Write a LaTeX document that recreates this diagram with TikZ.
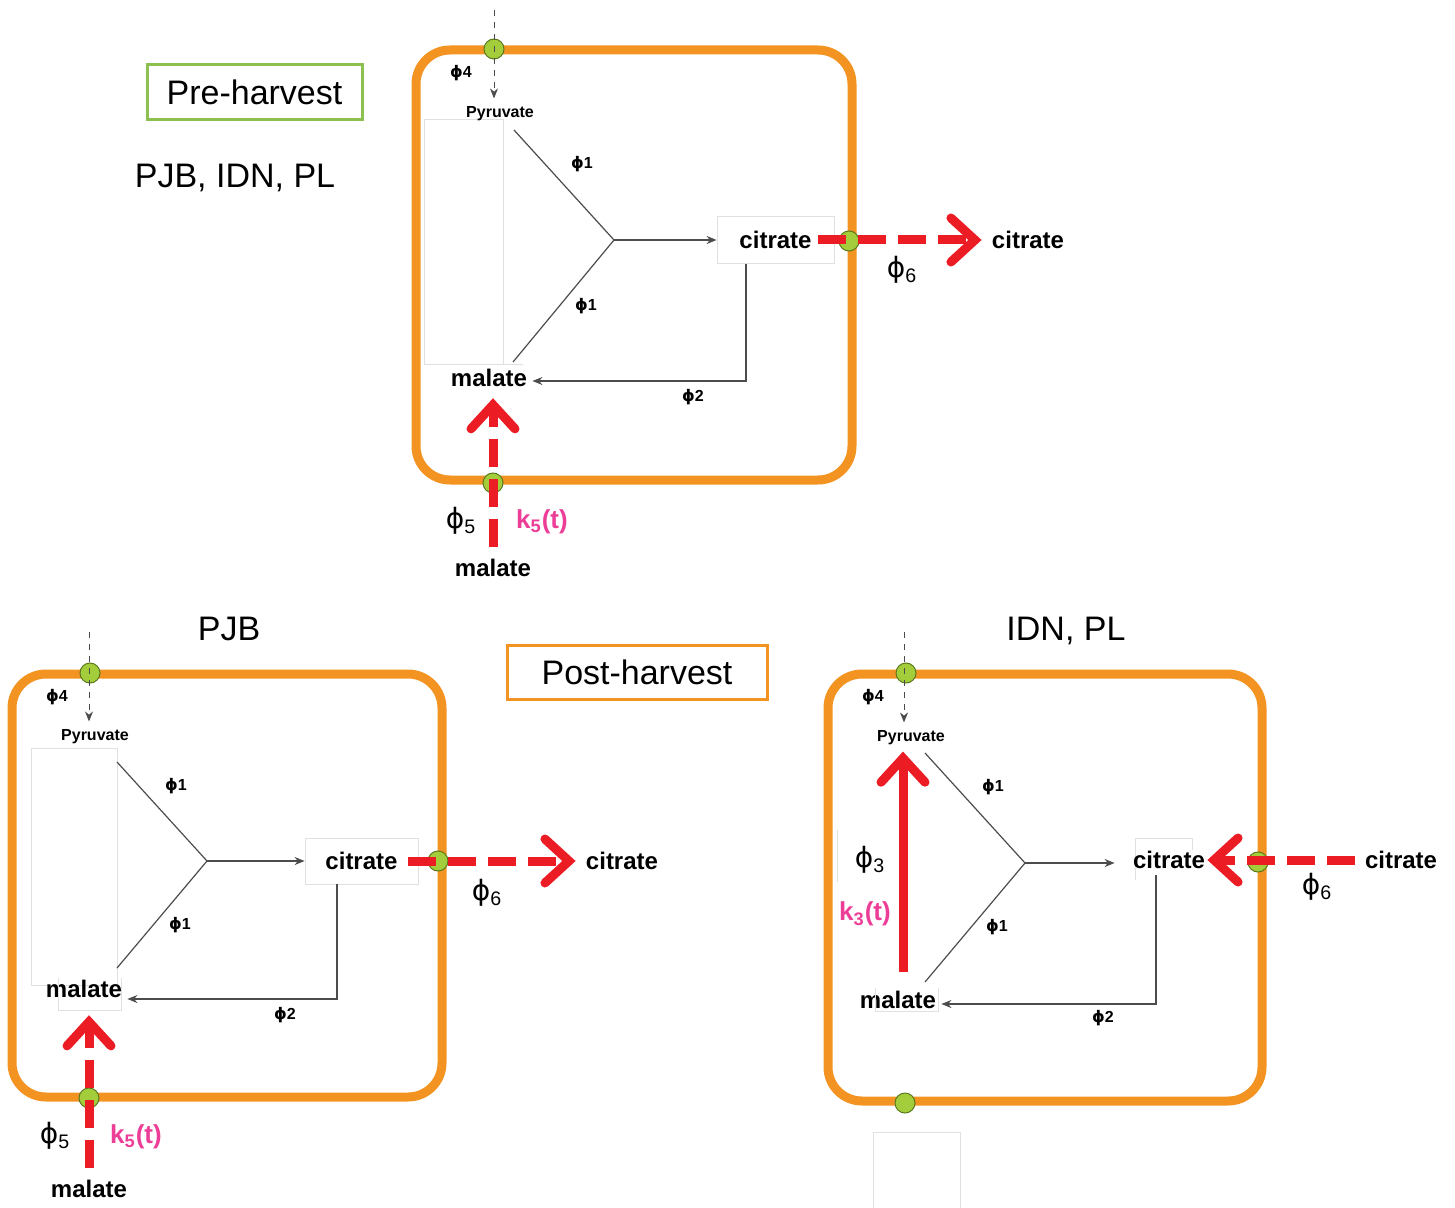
\documentclass[tikz,border=0pt]{standalone}
\usepackage{fontspec}
\setmainfont{Liberation Sans}
\newfontfamily\greekfont{DejaVu Sans}
\usepackage{xcolor}
\usetikzlibrary{arrows.meta}

\definecolor{cellorange}{HTML}{F39321}
\definecolor{dotgreen}{HTML}{A3CD3B}
\definecolor{dotedge}{HTML}{5B7A1C}
\definecolor{fluxred}{HTML}{EC1C24}
\definecolor{ratepink}{HTML}{EC3E97}
\definecolor{boxgray}{HTML}{E0E0E0}
\definecolor{harvgreen}{HTML}{8CC152}

\newcommand{\fphi}{{\greekfont ϕ}}

\begin{document}
\begin{tikzpicture}[x=0.5pt,y=-0.5pt,
  cell/.style={draw=cellorange,line width=4.5pt,rounded corners=17pt},
  port/.style={circle,draw=dotedge,fill=dotgreen,line width=0.5pt,minimum size=10pt,inner sep=0pt},
  metab/.style={font=\bfseries\fontsize{12}{12}\selectfont,inner sep=1pt},
  metabbox/.style={metab,draw=boxgray,line width=0.4pt},
  pyr/.style={font=\bfseries\fontsize{8}{8}\selectfont,inner sep=1pt},
  flux/.style={font=\bfseries\fontsize{8}{8}\selectfont},
  bigflux/.style={font=\fontsize{14}{14}\selectfont},
  rate/.style={font=\bfseries\fontsize{13}{13}\selectfont,text=ratepink},
  label/.style={font=\fontsize{17}{17}\selectfont},
  react/.style={draw=black!70,line width=0.6pt},
  feed/.style={react,-{Stealth[length=5pt,width=4pt]}},
  influx/.style={draw=black!70,line width=0.5pt,dashed,-{Stealth[length=5pt,width=4pt]}},
  transport/.style={draw=fluxred,line width=4.5pt,dash pattern=on 14pt off 6pt,
    -{Straight Barb[length=12pt,width=22pt,line cap=round]}},
  uptake/.style={transport,solid},
  faint/.style={draw=boxgray,line width=0.5pt}]

  \useasboundingbox (0,0) rectangle (1455,1208);

  % ---- pre-harvest cell ----
  \node[label,draw=harvgreen,line width=1.5pt,minimum width=107.5pt,minimum height=27.5pt]
    (pre) at (254.5,92.5) {Pre-harvest};
  \node[label] (preall) at (235,178) {PJB, IDN, PL};

  \draw[cell] (416,50) rectangle (852,480);
  \draw[faint] (424,120) rectangle (503,365);
  \draw[faint] (503,365) -- (523,365);

  \coordinate (A-src) at (494,10);
  \coordinate (A-j)   at (614,240);
  \coordinate (A-p)   at (514,130);
  \coordinate (A-m)   at (513,362);
  \node[port]  (A-in)  at (494,49) {};
  \node[pyr]   (A-pyr) at (500,114) {Pyruvate};
  \node[metabbox,minimum width=58.5pt,minimum height=23.5pt] (A-cit) at (775.5,240) {citrate};
  \node[metab,inner sep=2.5pt] (A-mal) at (489,378) {malate};
  \node[metab] (A-ext) at (1028,240) {citrate};
  \node[metab] (A-src5) at (493,568) {malate};
  \node[port]  (A-out) at (849,241) {};
  \node[port]  (A-in5) at (493,483) {};

  \draw[influx,shorten >=3pt] (A-src) -- (A-src |- A-pyr.north);
  \draw[react] (A-p) -- (A-j) -- (A-m);
  \draw[feed] (A-j) -- (A-j -| A-cit.west);
  \draw[feed] ([xshift=-14.75pt]A-cit.south) |- ([yshift=-1.5pt]A-mal.east);
  \draw[transport,shorten >=4pt] ([xshift=-8pt]A-cit.east) -- (A-ext.west);
  \draw[transport,shorten <=5pt,shorten >=3pt] (A-src5.north) -- (A-src5 |- A-mal.south);

  \node[flux] at (461,73) {\fphi4};
  \node[flux] at (582,164) {\fphi1};
  \node[flux] at (586,306) {\fphi1};
  \node[flux] at (693,397) {\fphi2};
  \node[bigflux] at (902,270) {\fphi\textsubscript{6}};
  \node[bigflux] at (461,521) {\fphi\textsubscript{5}};
  \node[rate] at (542,522) {k\textsubscript{5}(t)};

  % ---- post-harvest ----
  \node[label,draw=cellorange,line width=1.5pt,minimum width=130pt,minimum height=27pt]
    (post) at (637,672) {Post-harvest};

  % PJB
  \node[label] (pjb) at (229,629) {PJB};
  \draw[cell] (12,674) rectangle (442,1097);
  \draw[faint] (31,748) rectangle (117,985);

  \coordinate (B-src) at (89,632);
  \coordinate (B-j)   at (207,861);
  \coordinate (B-p)   at (117,762);
  \coordinate (B-m)   at (117,968);
  \node[port]  (B-in)  at (90,673) {};
  \node[pyr]   (B-pyr) at (95,737) {Pyruvate};
  \node[metabbox,minimum width=56.5pt,minimum height=23pt] (B-cit) at (361.5,861) {citrate};
  \node[metab,inner sep=2.5pt] (B-mal) at (84,989) {malate};
  \draw[faint] (58,978) -- (58,1010) -- (121,1010) -- (121,978);
  \node[metab] (B-ext) at (622,861) {citrate};
  \node[metab] (B-src5) at (89,1189) {malate};
  \node[port]  (B-out) at (438,861) {};
  \node[port]  (B-in5) at (89,1098) {};

  \draw[influx,shorten >=3pt] (B-src) -- (B-src |- B-pyr.north);
  \draw[react] (B-p) -- (B-j) -- (B-m);
  \draw[feed] (B-j) -- (B-cit.west);
  \draw[feed] ([xshift=-12.25pt]B-cit.south) |- ([yshift=-5pt]B-mal.east);
  \draw[transport,shorten >=4pt] ([xshift=-5pt]B-cit.east) -- (B-ext.west);
  \draw[transport,shorten <=5pt,shorten >=6pt] (B-src5.north) -- (B-src5 |- B-mal.south);

  \node[flux] at (57,697) {\fphi4};
  \node[flux] at (176,786) {\fphi1};
  \node[flux] at (180,925) {\fphi1};
  \node[flux] at (285,1015) {\fphi2};
  \node[bigflux] at (487,893) {\fphi\textsubscript{6}};
  \node[bigflux] at (55,1136) {\fphi\textsubscript{5}};
  \node[rate] at (136,1137) {k\textsubscript{5}(t)};

  % IDN, PL
  \node[label] (idn) at (1066,631) {IDN, PL};
  \draw[cell] (828,674) rectangle (1262,1101);
  \draw[faint] (837,830) -- (837,882);
  \draw[faint] (873,1208) |- (960,1132) -- (960,1208);

  \coordinate (C-src) at (904,632);
  \coordinate (C-j)   at (1025,863);
  \coordinate (C-p)   at (925,753);
  \coordinate (C-m)   at (925,982);
  \node[port]  (C-in)  at (906,673) {};
  \node[port]  (C-bot) at (905,1103) {};
  \node[pyr]   (C-pyr) at (911,738) {Pyruvate};
  \draw[faint] (1135,880) |- (1192,838) -- (1192,850);
  \node[metab] (C-cit) at (1169,860) {citrate};
  \node[metab,inner sep=2.5pt] (C-mal) at (898,1000) {malate};
  \draw[faint] (875,988) -- (875,1011) -- (938,1011) -- (938,988);
  \node[metab] (C-ext) at (1401,860) {citrate};
  \node[port]  (C-out) at (1258,862) {};

  \draw[influx,shorten >=3pt] (C-src) -- (C-src |- C-pyr.north);
  \draw[react] (C-p) -- (C-j) -- (C-m);
  \draw[feed,shorten >=8pt] (C-j) -- (C-j -| C-cit.west);
  \draw[feed] (1156,875) |- ([yshift=-2pt]C-mal.east);
  \draw[transport,shorten <=4pt] (C-ext.west) -- (C-cit.east);
  \draw[uptake,shorten <=7pt,shorten >=2pt] (C-mal.north -| 903,0) -- (C-pyr.south -| 903,0);

  \node[flux] at (873,697) {\fphi4};
  \node[flux] at (993,787) {\fphi1};
  \node[flux] at (997,927) {\fphi1};
  \node[flux] at (1103,1018) {\fphi2};
  \node[bigflux] at (870,860) {\fphi\textsubscript{3}};
  \node[rate] at (865,914) {k\textsubscript{3}(t)};
  \node[bigflux] at (1317,887) {\fphi\textsubscript{6}};
\end{tikzpicture}
\end{document}
